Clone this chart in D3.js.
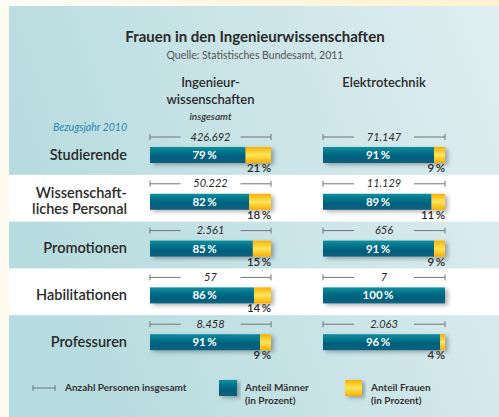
<!DOCTYPE html>
<html>
<head>
<meta charset="utf-8">
<script src="https://cdn.jsdelivr.net/npm/d3@7"></script>
<style>
  body { margin: 0; background: #fffaf0; }
  svg { display: block; font-family: Lato, "Open Sans", sans-serif; }
</style>
</head>
<body>
<div id="chart"></div>
<script>
// data
var categories = ["Studierende", "Wissenschaftliches Personal", "Promotionen", "Habilitationen", "Professuren"];
var categoryLines = [["Studierende"], ["Wissenschaft-", "liches Personal"], ["Promotionen"], ["Habilitationen"], ["Professuren"]];
var groups = ["Ingenieurwissenschaften", "Elektrotechnik"];
var totalsIng = [426692, 50222, 2561, 57, 8458];
var totalsElek = [71147, 11129, 656, 7, 2063];
var menIng = [79, 82, 85, 86, 91];
var menElek = [91, 89, 91, 100, 96];
var womenIng = [21, 18, 15, 14, 9];
var womenElek = [9, 11, 9, 0, 4];

var width = 499, height = 417;
var de = d3.formatLocale({decimal: ",", thousands: ".", grouping: [3], currency: ["", " €"]});
var fmtCount = de.format(",d");
var pct = function (v) { return v + "\u2009%"; };

var svg = d3.select("#chart").append("svg")
    .attr("width", width)
    .attr("height", height);

var defs = svg.append("defs");
var bg = defs.append("linearGradient").attr("id", "bg")
    .attr("x1", "0%").attr("y1", "30%").attr("x2", "100%").attr("y2", "0%");
bg.append("stop").attr("offset", "0%").attr("stop-color", "#b7dcdf");
bg.append("stop").attr("offset", "100%").attr("stop-color", "#e0eef1");

var cream = defs.append("linearGradient").attr("id", "topcream")
    .attr("x1", "0%").attr("x2", "100%");
cream.append("stop").attr("offset", "0%").attr("stop-color", "#fffdf8");
cream.append("stop").attr("offset", "100%").attr("stop-color", "#fff1d0");

var men = defs.append("linearGradient").attr("id", "men")
    .attr("x1", "0").attr("y1", "0").attr("x2", "0").attr("y2", "1");
men.append("stop").attr("offset", "0%").attr("stop-color", "#0b8e9c");
men.append("stop").attr("offset", "55%").attr("stop-color", "#00627f");
men.append("stop").attr("offset", "100%").attr("stop-color", "#0d5f7c");

var women = defs.append("linearGradient").attr("id", "women")
    .attr("x1", "0").attr("y1", "0").attr("x2", "0").attr("y2", "1");
women.append("stop").attr("offset", "0%").attr("stop-color", "#f7b100");
women.append("stop").attr("offset", "50%").attr("stop-color", "#ffe55a");
women.append("stop").attr("offset", "100%").attr("stop-color", "#f6ae00");

var shadow = defs.append("filter").attr("id", "shadow")
    .attr("x", "-10%").attr("y", "-40%").attr("width", "130%").attr("height", "200%");
shadow.append("feDropShadow").attr("dx", 3).attr("dy", 2).attr("stdDeviation", 2)
    .attr("flood-color", "#000").attr("flood-opacity", 0.3);

// background
svg.append("rect").attr("x", 0).attr("y", 0).attr("width", width).attr("height", 6).attr("fill", "url(#topcream)");
svg.append("rect").attr("x", 9).attr("y", 6).attr("width", width - 9).attr("height", height - 6).attr("fill", "url(#bg)");

var y = d3.scaleBand().domain(categories).range([128, 362]).paddingInner(0);
var colX = d3.scaleOrdinal().domain(groups).range([150, 323]);
var colW = d3.scaleOrdinal().domain(groups).range([121, 122]);

// white bands
svg.selectAll("rect.band")
    .data(categories.filter(function (d, i) { return i % 2 == 1; }))
    .enter().append("rect")
    .attr("class", "band")
    .attr("x", 9)
    .attr("width", width - 9)
    .attr("y", function (d) { return y(d); })
    .attr("height", y.bandwidth())
    .attr("fill", "#ffffff");

// title
svg.append("text").attr("x", 255).attr("y", 42).attr("text-anchor", "middle")
    .attr("font-size", 15).attr("font-weight", "bold").attr("fill", "#2a2a2a")
    .text("Frauen in den Ingenieurwissenschaften");
svg.append("text").attr("x", 255).attr("y", 59).attr("text-anchor", "middle")
    .attr("font-size", 10.5).attr("fill", "#555")
    .text("Quelle: Statistisches Bundesamt, 2011");

// column headers
var hx = function (g) { return colX(g) + colW(g) / 2; };
svg.append("text").attr("x", hx(groups[0])).attr("y", 87).attr("text-anchor", "middle")
    .attr("font-size", 13).attr("font-weight", 600).attr("fill", "#2a2a2a").text("Ingenieur-");
svg.append("text").attr("x", hx(groups[0])).attr("y", 104).attr("text-anchor", "middle")
    .attr("font-size", 13).attr("font-weight", 600).attr("fill", "#2a2a2a").text("wissenschaften");
svg.append("text").attr("x", hx(groups[0])).attr("y", 120).attr("text-anchor", "middle")
    .attr("font-size", 10).attr("font-style", "italic").attr("font-weight", 600).attr("fill", "#333").text("insgesamt");
svg.append("text").attr("x", hx(groups[1])).attr("y", 87).attr("text-anchor", "middle")
    .attr("font-size", 13).attr("font-weight", 600).attr("fill", "#2a2a2a").text("Elektrotechnik");
svg.append("text").attr("x", 127).attr("y", 131).attr("text-anchor", "end")
    .attr("font-size", 10.5).attr("font-style", "italic").attr("fill", "#2b86b5").text("Bezugsjahr 2010");

// row labels
var barTop = function (c) { return y(c) + 19; };
var barH = 16;
categories.forEach(function (c, i) {
    var lines = categoryLines[i];
    var cy = barTop(c) + barH / 2;
    lines.forEach(function (l, j) {
        svg.append("text")
            .attr("x", 127)
            .attr("y", cy + 4.5 + (j - (lines.length - 1) / 2) * 16)
            .attr("text-anchor", "end")
            .attr("font-size", 14.5).attr("font-weight", 600).attr("fill", "#2a2a2a")
            .text(l);
    });
});

var x = d3.scaleLinear().domain([0, 100]);

function drawColumn(group, totals, menVals, womenVals) {
    var x0 = colX(group), w = colW(group);
    x.range([0, w]);
    var data = categories.map(function (c, i) {
        return {cat: c, total: totals[i], men: menVals[i], women: womenVals[i]};
    });
    var g = svg.append("g").attr("class", "col");
    var row = g.selectAll("g.row").data(data).enter().append("g")
        .attr("class", "row")
        .attr("transform", function (d) { return "translate(" + x0 + "," + barTop(d.cat) + ")"; });

    // whisker
    var wy = -10, gap = 30, mid = w / 2;
    row.append("path")
        .attr("d", "M0," + (wy - 3) + "V" + (wy + 3) + "M0," + wy + "H" + (mid - gap) +
            "M" + (mid + gap) + "," + wy + "H" + w + "M" + w + "," + (wy - 3) + "V" + (wy + 3))
        .attr("stroke", "#6f7778").attr("stroke-width", 1).attr("fill", "none");
    row.append("text")
        .attr("x", mid).attr("y", wy + 3.5)
        .attr("text-anchor", "middle")
        .attr("font-size", 11).attr("font-style", "italic").attr("fill", "#2a2a2a")
        .text(function (d) { return fmtCount(d.total); });

    var bars = row.append("g").attr("filter", "url(#shadow)");
    bars.append("rect")
        .attr("x", 0).attr("y", 0)
        .attr("width", function (d) { return x(d.men); })
        .attr("height", barH)
        .attr("fill", "url(#men)");
    bars.append("rect")
        .attr("x", function (d) { return x(d.men); }).attr("y", 0)
        .attr("width", function (d) { return x(d.women); })
        .attr("height", barH)
        .attr("fill", "url(#women)");

    row.append("text")
        .attr("x", mid - 6).attr("y", barH / 2 + 4)
        .attr("text-anchor", "middle")
        .attr("font-size", 11.5).attr("font-weight", "bold").attr("fill", "#fff")
        .text(function (d) { return pct(d.men); });
    row.filter(function (d) { return d.women > 0; }).append("text")
        .attr("x", w).attr("y", barH + 9)
        .attr("text-anchor", "end")
        .attr("font-size", 11.5).attr("font-weight", 600).attr("fill", "#2a2a2a")
        .text(function (d) { return pct(d.women); });
}
drawColumn(groups[0], totalsIng, menIng, womenIng);
drawColumn(groups[1], totalsElek, menElek, womenElek);

// legend
var lg = svg.append("g").attr("class", "legend");
lg.append("path").attr("d", "M33,385V391M33,388H55M55,385V391")
    .attr("stroke", "#6f7778").attr("fill", "none");
lg.append("text").attr("x", 65).attr("y", 391).attr("font-size", 10).attr("font-weight", "bold")
    .attr("fill", "#333").text("Anzahl Personen insgesamt");
lg.append("rect").attr("x", 219).attr("y", 380).attr("width", 18).attr("height", 16)
    .attr("fill", "url(#men)").attr("filter", "url(#shadow)");
lg.append("text").attr("x", 245).attr("y", 391).attr("font-size", 10).attr("font-weight", "bold")
    .attr("fill", "#333").text("Anteil Männer");
lg.append("text").attr("x", 245).attr("y", 404).attr("font-size", 10).attr("font-weight", "bold")
    .attr("fill", "#333").text("(in Prozent)");
lg.append("rect").attr("x", 345).attr("y", 380).attr("width", 17).attr("height", 16)
    .attr("fill", "url(#women)").attr("filter", "url(#shadow)");
lg.append("text").attr("x", 371).attr("y", 391).attr("font-size", 10).attr("font-weight", "bold")
    .attr("fill", "#333").text("Anteil Frauen");
lg.append("text").attr("x", 371).attr("y", 404).attr("font-size", 10).attr("font-weight", "bold")
    .attr("fill", "#333").text("(in Prozent)");
</script>
</body>
</html>
